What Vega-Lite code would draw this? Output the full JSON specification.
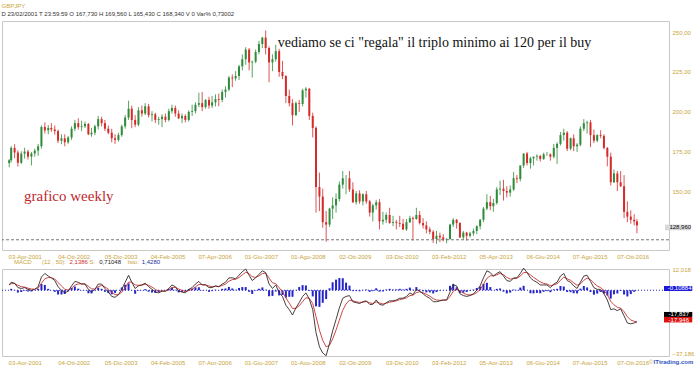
{
 "$schema": "https://vega.github.io/schema/vega-lite/v6.json",
 "padding": {"left": 1, "top": 2, "right": 0, "bottom": 0},
 "background": "white",
 "spacing": 19,
 "bounds": "flush",
 "datasets": {
  "w": [
{"d":"2001-02-25","o":168.0,"h":170.5,"l":165.4,"c":169.8,"m":3.0,"s":3.0,"hs":0.0},
{"d":"2001-03-15","o":169.8,"h":178.6,"l":168.5,"c":177.5,"m":4.5,"s":3.7,"hs":0.8},
{"d":"2001-04-15","o":177.5,"h":179.8,"l":171.0,"c":174.6,"m":4.0,"s":3.8,"hs":0.2},
{"d":"2001-05-15","o":174.6,"h":176.0,"l":165.8,"c":168.2,"m":1.5,"s":2.8,"hs":-1.3},
{"d":"2001-06-15","o":168.2,"h":175.4,"l":167.5,"c":173.9,"m":1.0,"s":2.0,"hs":-1.0},
{"d":"2001-07-15","o":173.9,"h":177.6,"l":170.8,"c":175.2,"m":1.5,"s":1.8,"hs":-0.3},
{"d":"2001-08-15","o":175.2,"h":176.3,"l":170.2,"c":172.0,"m":0.5,"s":1.2,"hs":-0.7},
{"d":"2001-09-15","o":172.0,"h":175.0,"l":166.5,"c":174.0,"m":0.0,"s":0.7,"hs":-0.7},
{"d":"2001-10-15","o":174.0,"h":177.0,"l":172.0,"c":175.8,"m":0.5,"s":0.6,"hs":-0.1},
{"d":"2001-11-15","o":175.8,"h":180.0,"l":172.5,"c":178.5,"m":2.0,"s":1.2,"hs":0.8},
{"d":"2001-12-15","o":178.5,"h":191.5,"l":177.0,"c":190.6,"m":7.5,"s":4.0,"hs":3.5},
{"d":"2002-01-15","o":190.6,"h":193.5,"l":186.5,"c":188.5,"m":9.5,"s":6.5,"hs":3.0},
{"d":"2002-02-15","o":188.5,"h":191.8,"l":186.0,"c":190.0,"m":8.0,"s":7.2,"hs":0.8},
{"d":"2002-03-15","o":190.0,"h":193.0,"l":187.5,"c":189.0,"m":7.0,"s":7.1,"hs":-0.1},
{"d":"2002-04-15","o":189.0,"h":191.5,"l":185.8,"c":188.0,"m":5.5,"s":6.4,"hs":-0.9},
{"d":"2002-05-15","o":188.0,"h":189.0,"l":180.5,"c":182.0,"m":2.0,"s":4.4,"hs":-2.4},
{"d":"2002-06-15","o":182.0,"h":186.0,"l":179.8,"c":183.5,"m":0.0,"s":2.4,"hs":-2.4},
{"d":"2002-07-15","o":183.5,"h":186.0,"l":178.5,"c":181.0,"m":-1.5,"s":0.6,"hs":-2.1},
{"d":"2002-08-15","o":181.0,"h":185.0,"l":180.0,"c":184.0,"m":-0.5,"s":0.1,"hs":-0.6},
{"d":"2002-09-15","o":184.0,"h":191.0,"l":182.5,"c":189.5,"m":2.5,"s":1.2,"hs":1.3},
{"d":"2002-10-15","o":189.5,"h":195.0,"l":188.0,"c":193.0,"m":5.0,"s":2.9,"hs":2.1},
{"d":"2002-11-15","o":193.0,"h":196.0,"l":189.0,"c":190.5,"m":4.5,"s":3.6,"hs":0.9},
{"d":"2002-12-15","o":190.5,"h":194.5,"l":188.0,"c":191.0,"m":3.5,"s":3.6,"hs":-0.1},
{"d":"2003-01-15","o":191.0,"h":194.0,"l":190.0,"c":192.5,"m":3.5,"s":3.6,"hs":-0.1},
{"d":"2003-02-15","o":192.5,"h":193.0,"l":185.5,"c":186.0,"m":0.5,"s":2.2,"hs":-1.7},
{"d":"2003-03-15","o":186.0,"h":190.0,"l":184.5,"c":187.0,"m":-1.0,"s":0.8,"hs":-1.8},
{"d":"2003-04-15","o":187.0,"h":192.0,"l":185.5,"c":191.0,"m":0.5,"s":0.7,"hs":-0.2},
{"d":"2003-05-15","o":191.0,"h":197.5,"l":189.0,"c":195.5,"m":3.5,"s":2.0,"hs":1.5},
{"d":"2003-06-15","o":195.5,"h":197.0,"l":191.0,"c":193.0,"m":3.5,"s":2.7,"hs":0.8},
{"d":"2003-07-15","o":193.0,"h":195.0,"l":188.0,"c":189.5,"m":1.0,"s":1.9,"hs":-0.9},
{"d":"2003-08-15","o":189.5,"h":191.5,"l":186.0,"c":187.0,"m":-1.0,"s":0.6,"hs":-1.6},
{"d":"2003-09-15","o":187.0,"h":189.5,"l":181.0,"c":183.5,"m":-3.5,"s":-1.2,"hs":-2.3},
{"d":"2003-10-15","o":183.5,"h":186.0,"l":180.0,"c":182.5,"m":-4.0,"s":-2.5,"hs":-1.5},
{"d":"2003-11-15","o":182.5,"h":187.0,"l":181.5,"c":185.5,"m":-2.5,"s":-2.5,"hs":0.0},
{"d":"2003-12-15","o":185.5,"h":192.0,"l":184.5,"c":191.0,"m":0.5,"s":-1.1,"hs":1.6},
{"d":"2004-01-15","o":191.0,"h":198.0,"l":189.5,"c":196.5,"m":4.5,"s":1.4,"hs":3.1},
{"d":"2004-02-15","o":196.5,"h":207.0,"l":195.0,"c":202.0,"m":8.5,"s":4.6,"hs":3.9},
{"d":"2004-03-15","o":202.0,"h":204.0,"l":189.8,"c":195.0,"m":4.5,"s":4.6,"hs":-0.1},
{"d":"2004-04-15","o":195.0,"h":198.0,"l":190.5,"c":192.0,"m":1.0,"s":3.0,"hs":-2.0},
{"d":"2004-05-15","o":192.0,"h":203.0,"l":191.0,"c":201.0,"m":2.5,"s":2.8,"hs":-0.3},
{"d":"2004-06-15","o":201.0,"h":204.0,"l":197.0,"c":199.0,"m":3.0,"s":2.9,"hs":0.1},
{"d":"2004-07-15","o":199.0,"h":205.5,"l":198.0,"c":203.5,"m":4.0,"s":3.4,"hs":0.6},
{"d":"2004-08-15","o":203.5,"h":205.0,"l":196.5,"c":198.0,"m":2.0,"s":2.8,"hs":-0.8},
{"d":"2004-09-15","o":198.0,"h":200.5,"l":194.0,"c":198.5,"m":0.5,"s":1.8,"hs":-1.3},
{"d":"2004-10-15","o":198.5,"h":199.5,"l":193.0,"c":195.0,"m":-1.0,"s":0.5,"hs":-1.5},
{"d":"2004-11-15","o":195.0,"h":197.0,"l":192.0,"c":195.5,"m":-1.5,"s":-0.4,"hs":-1.1},
{"d":"2004-12-15","o":195.5,"h":198.5,"l":190.5,"c":197.0,"m":-0.5,"s":-0.4,"hs":-0.1},
{"d":"2005-01-15","o":197.0,"h":199.0,"l":193.5,"c":195.0,"m":-0.5,"s":-0.5,"hs":0.0},
{"d":"2005-02-15","o":195.0,"h":202.0,"l":194.0,"c":200.5,"m":1.0,"s":0.2,"hs":0.8},
{"d":"2005-03-15","o":200.5,"h":204.5,"l":199.0,"c":202.5,"m":3.0,"s":1.5,"hs":1.5},
{"d":"2005-04-15","o":202.5,"h":204.0,"l":197.0,"c":199.0,"m":2.0,"s":1.7,"hs":0.3},
{"d":"2005-05-15","o":199.0,"h":201.0,"l":195.5,"c":196.0,"m":-0.5,"s":0.7,"hs":-1.2},
{"d":"2005-06-15","o":196.0,"h":199.0,"l":193.0,"c":197.5,"m":-1.0,"s":-0.1,"hs":-0.9},
{"d":"2005-07-15","o":197.5,"h":198.5,"l":193.5,"c":195.0,"m":-1.5,"s":-0.7,"hs":-0.8},
{"d":"2005-08-15","o":195.0,"h":201.0,"l":194.0,"c":200.0,"m":0.5,"s":-0.2,"hs":0.7},
{"d":"2005-09-15","o":200.0,"h":204.5,"l":197.5,"c":200.5,"m":1.5,"s":0.6,"hs":0.9},
{"d":"2005-10-15","o":200.5,"h":206.0,"l":199.0,"c":204.5,"m":3.5,"s":1.9,"hs":1.6},
{"d":"2005-11-15","o":204.5,"h":212.0,"l":203.0,"c":205.5,"m":5.0,"s":3.3,"hs":1.7},
{"d":"2005-12-15","o":205.5,"h":212.5,"l":200.5,"c":203.0,"m":3.0,"s":3.2,"hs":-0.2},
{"d":"2006-01-15","o":203.0,"h":208.0,"l":202.0,"c":207.5,"m":3.0,"s":3.1,"hs":-0.1},
{"d":"2006-02-15","o":207.5,"h":209.5,"l":202.0,"c":204.0,"m":1.5,"s":2.4,"hs":-0.9},
{"d":"2006-03-15","o":204.0,"h":210.0,"l":202.5,"c":206.0,"m":1.5,"s":2.0,"hs":-0.5},
{"d":"2006-04-15","o":206.0,"h":211.0,"l":203.5,"c":208.0,"m":2.5,"s":2.2,"hs":0.3},
{"d":"2006-05-15","o":208.0,"h":211.5,"l":203.5,"c":207.5,"m":2.0,"s":2.1,"hs":-0.1},
{"d":"2006-06-15","o":207.5,"h":214.0,"l":206.0,"c":212.5,"m":3.5,"s":2.7,"hs":0.8},
{"d":"2006-07-15","o":212.5,"h":216.0,"l":209.0,"c":214.0,"m":4.5,"s":3.5,"hs":1.0},
{"d":"2006-08-15","o":214.0,"h":222.5,"l":213.0,"c":221.5,"m":7.0,"s":5.1,"hs":1.9},
{"d":"2006-09-15","o":221.5,"h":223.5,"l":215.5,"c":221.0,"m":7.0,"s":6.0,"hs":1.0},
{"d":"2006-10-15","o":221.0,"h":225.5,"l":219.5,"c":222.5,"m":6.5,"s":6.2,"hs":0.3},
{"d":"2006-11-15","o":222.5,"h":229.5,"l":220.0,"c":228.5,"m":8.5,"s":7.2,"hs":1.3},
{"d":"2006-12-15","o":228.5,"h":236.0,"l":226.0,"c":233.0,"m":10.5,"s":8.7,"hs":1.8},
{"d":"2007-01-15","o":233.0,"h":240.5,"l":229.5,"c":239.0,"m":12.0,"s":10.2,"hs":1.8},
{"d":"2007-02-15","o":239.0,"h":240.0,"l":226.0,"c":231.0,"m":8.5,"s":9.4,"hs":-0.9},
{"d":"2007-03-15","o":231.0,"h":232.0,"l":221.5,"c":231.5,"m":5.5,"s":7.6,"hs":-2.1},
{"d":"2007-04-15","o":231.5,"h":239.0,"l":230.5,"c":237.5,"m":7.0,"s":7.3,"hs":-0.3},
{"d":"2007-05-15","o":237.5,"h":244.5,"l":236.0,"c":242.5,"m":9.0,"s":8.1,"hs":0.9},
{"d":"2007-06-15","o":242.5,"h":247.0,"l":240.0,"c":246.5,"m":11.0,"s":9.4,"hs":1.6},
{"d":"2007-07-15","o":246.5,"h":251.0,"l":236.0,"c":240.0,"m":10.0,"s":9.7,"hs":0.3},
{"d":"2007-08-15","o":240.0,"h":241.0,"l":218.5,"c":231.0,"m":3.5,"s":6.9,"hs":-3.4},
{"d":"2007-09-15","o":231.0,"h":236.0,"l":225.5,"c":233.0,"m":1.0,"s":4.2,"hs":-3.2},
{"d":"2007-10-15","o":233.0,"h":242.0,"l":231.5,"c":238.0,"m":3.0,"s":3.7,"hs":-0.7},
{"d":"2007-11-15","o":238.0,"h":239.5,"l":222.0,"c":225.0,"m":-1.5,"s":1.4,"hs":-2.9},
{"d":"2007-12-15","o":225.0,"h":232.0,"l":220.5,"c":222.5,"m":-3.5,"s":-0.8,"hs":-2.7},
{"d":"2008-01-15","o":222.5,"h":223.0,"l":205.5,"c":210.0,"m":-8.5,"s":-4.3,"hs":-4.2},
{"d":"2008-02-15","o":210.0,"h":214.0,"l":203.5,"c":205.5,"m":-11.0,"s":-7.3,"hs":-3.7},
{"d":"2008-03-15","o":205.5,"h":208.0,"l":191.5,"c":198.0,"m":-14.0,"s":-10.3,"hs":-3.7},
{"d":"2008-04-15","o":198.0,"h":206.5,"l":197.5,"c":205.5,"m":-10.0,"s":-10.2,"hs":0.2},
{"d":"2008-05-15","o":205.5,"h":207.5,"l":200.0,"c":205.0,"m":-7.0,"s":-8.8,"hs":1.8},
{"d":"2008-06-15","o":205.0,"h":214.5,"l":203.5,"c":213.5,"m":-3.5,"s":-6.4,"hs":2.9},
{"d":"2008-07-15","o":213.5,"h":215.5,"l":209.0,"c":214.5,"m":-1.5,"s":-4.2,"hs":2.7},
{"d":"2008-08-15","o":214.5,"h":215.0,"l":195.0,"c":197.5,"m":-5.0,"s":-4.6,"hs":-0.4},
{"d":"2008-09-15","o":197.5,"h":199.5,"l":184.0,"c":190.0,"m":-11.0,"s":-7.5,"hs":-3.5},
{"d":"2008-10-15","o":190.0,"h":191.0,"l":137.0,"c":153.0,"m":-24.0,"s":-14.9,"hs":-9.1},
{"d":"2008-11-15","o":153.0,"h":162.0,"l":138.0,"c":147.0,"m":-32.0,"s":-22.6,"hs":-9.4},
{"d":"2008-12-15","o":147.0,"h":152.0,"l":127.5,"c":131.0,"m":-35.5,"s":-28.4,"hs":-7.1},
{"d":"2009-01-15","o":131.0,"h":138.0,"l":118.8,"c":129.5,"m":-37.0,"s":-32.0,"hs":-5.0},
{"d":"2009-02-15","o":129.5,"h":140.0,"l":128.0,"c":139.5,"m":-30.0,"s":-31.1,"hs":1.1},
{"d":"2009-03-15","o":139.5,"h":146.5,"l":133.0,"c":141.5,"m":-23.0,"s":-27.5,"hs":4.5},
{"d":"2009-04-15","o":141.5,"h":149.0,"l":137.0,"c":145.5,"m":-16.5,"s":-22.5,"hs":6.0},
{"d":"2009-05-15","o":145.5,"h":156.5,"l":144.0,"c":154.5,"m":-10.0,"s":-16.9,"hs":6.9},
{"d":"2009-06-15","o":154.5,"h":163.0,"l":152.0,"c":158.5,"m":-4.5,"s":-11.3,"hs":6.8},
{"d":"2009-07-15","o":158.5,"h":160.5,"l":148.5,"c":158.5,"m":-3.5,"s":-7.8,"hs":4.3},
{"d":"2009-08-15","o":158.5,"h":163.0,"l":150.0,"c":151.5,"m":-3.0,"s":-5.6,"hs":2.6},
{"d":"2009-09-15","o":151.5,"h":156.0,"l":143.0,"c":143.5,"m":-6.5,"s":-6.0,"hs":-0.5},
{"d":"2009-10-15","o":143.5,"h":150.5,"l":142.0,"c":149.0,"m":-7.0,"s":-6.5,"hs":-0.5},
{"d":"2009-11-15","o":149.0,"h":151.0,"l":142.5,"c":144.0,"m":-7.5,"s":-6.9,"hs":-0.6},
{"d":"2009-12-15","o":144.0,"h":149.0,"l":141.5,"c":148.5,"m":-6.5,"s":-6.7,"hs":0.2},
{"d":"2010-01-15","o":148.5,"h":150.5,"l":142.5,"c":144.0,"m":-6.0,"s":-6.4,"hs":0.4},
{"d":"2010-02-15","o":144.0,"h":145.0,"l":134.5,"c":137.0,"m":-8.0,"s":-7.1,"hs":-0.9},
{"d":"2010-03-15","o":137.0,"h":142.5,"l":131.5,"c":141.5,"m":-8.0,"s":-7.5,"hs":-0.5},
{"d":"2010-04-15","o":141.5,"h":145.0,"l":139.0,"c":143.5,"m":-5.5,"s":-6.6,"hs":1.1},
{"d":"2010-05-15","o":143.5,"h":145.5,"l":126.5,"c":131.5,"m":-8.0,"s":-7.2,"hs":-0.8},
{"d":"2010-06-15","o":131.5,"h":137.5,"l":129.5,"c":132.5,"m":-8.5,"s":-7.8,"hs":-0.7},
{"d":"2010-07-15","o":132.5,"h":137.0,"l":130.5,"c":135.5,"m":-7.0,"s":-7.4,"hs":0.4},
{"d":"2010-08-15","o":135.5,"h":140.0,"l":130.0,"c":130.5,"m":-6.0,"s":-6.8,"hs":0.8},
{"d":"2010-09-15","o":130.5,"h":135.0,"l":128.5,"c":131.0,"m":-6.0,"s":-6.4,"hs":0.4},
{"d":"2010-10-15","o":131.0,"h":132.5,"l":126.5,"c":130.5,"m":-5.5,"s":-6.0,"hs":0.5},
{"d":"2010-11-15","o":130.5,"h":135.0,"l":128.0,"c":130.0,"m":-4.5,"s":-5.3,"hs":0.8},
{"d":"2010-12-15","o":130.0,"h":133.0,"l":126.0,"c":126.5,"m":-4.5,"s":-4.9,"hs":0.4},
{"d":"2011-01-15","o":126.5,"h":133.0,"l":125.5,"c":131.0,"m":-3.5,"s":-4.3,"hs":0.8},
{"d":"2011-02-15","o":131.0,"h":135.0,"l":130.5,"c":133.5,"m":-1.5,"s":-3.0,"hs":1.5},
{"d":"2011-03-15","o":133.5,"h":134.5,"l":119.5,"c":133.0,"m":-2.5,"s":-2.8,"hs":0.3},
{"d":"2011-04-15","o":133.0,"h":140.0,"l":132.5,"c":135.5,"m":0.5,"s":-1.3,"hs":1.8},
{"d":"2011-05-15","o":135.5,"h":138.0,"l":129.5,"c":130.5,"m":-0.5,"s":-0.9,"hs":0.4},
{"d":"2011-06-15","o":130.5,"h":133.5,"l":127.0,"c":129.0,"m":-2.0,"s":-1.4,"hs":-0.6},
{"d":"2011-07-15","o":129.0,"h":131.5,"l":124.0,"c":126.5,"m":-3.5,"s":-2.3,"hs":-1.2},
{"d":"2011-08-15","o":126.5,"h":128.0,"l":123.5,"c":125.0,"m":-4.5,"s":-3.3,"hs":-1.2},
{"d":"2011-09-15","o":125.0,"h":126.0,"l":118.0,"c":120.5,"m":-6.5,"s":-4.7,"hs":-1.8},
{"d":"2011-10-15","o":120.5,"h":125.5,"l":117.5,"c":122.5,"m":-6.5,"s":-5.5,"hs":-1.0},
{"d":"2011-11-15","o":122.5,"h":124.5,"l":118.5,"c":121.5,"m":-6.0,"s":-5.7,"hs":-0.3},
{"d":"2011-12-15","o":121.5,"h":123.5,"l":119.0,"c":120.0,"m":-5.5,"s":-5.6,"hs":0.1},
{"d":"2012-01-15","o":120.0,"h":121.0,"l":117.8,"c":120.5,"m":-5.5,"s":-5.6,"hs":0.1},
{"d":"2012-02-15","o":120.5,"h":130.0,"l":120.0,"c":129.5,"m":-1.0,"s":-3.5,"hs":2.5},
{"d":"2012-03-15","o":129.5,"h":133.5,"l":128.0,"c":132.5,"m":3.0,"s":-0.6,"hs":3.6},
{"d":"2012-04-15","o":132.5,"h":133.0,"l":127.0,"c":130.5,"m":2.5,"s":0.8,"hs":1.7},
{"d":"2012-05-15","o":130.5,"h":131.0,"l":121.0,"c":121.5,"m":-2.0,"s":-0.5,"hs":-1.5},
{"d":"2012-06-15","o":121.5,"h":125.5,"l":120.0,"c":124.5,"m":-3.0,"s":-1.6,"hs":-1.4},
{"d":"2012-07-15","o":124.5,"h":125.0,"l":119.5,"c":122.5,"m":-3.5,"s":-2.5,"hs":-1.0},
{"d":"2012-08-15","o":122.5,"h":125.0,"l":121.5,"c":124.0,"m":-3.0,"s":-2.7,"hs":-0.3},
{"d":"2012-09-15","o":124.0,"h":127.0,"l":122.5,"c":125.5,"m":-2.0,"s":-2.4,"hs":0.4},
{"d":"2012-10-15","o":125.5,"h":129.0,"l":123.5,"c":128.5,"m":0.0,"s":-1.3,"hs":1.3},
{"d":"2012-11-15","o":128.5,"h":133.0,"l":126.5,"c":132.5,"m":2.5,"s":0.4,"hs":2.1},
{"d":"2012-12-15","o":132.5,"h":140.5,"l":131.0,"c":139.5,"m":7.0,"s":3.4,"hs":3.6},
{"d":"2013-01-15","o":139.5,"h":148.5,"l":138.5,"c":143.5,"m":11.0,"s":6.8,"hs":4.2},
{"d":"2013-02-15","o":143.5,"h":147.5,"l":138.5,"c":141.0,"m":10.0,"s":8.2,"hs":1.8},
{"d":"2013-03-15","o":141.0,"h":145.5,"l":137.5,"c":143.0,"m":8.0,"s":8.1,"hs":-0.1},
{"d":"2013-04-15","o":143.0,"h":153.0,"l":142.0,"c":151.5,"m":9.5,"s":8.7,"hs":0.8},
{"d":"2013-05-15","o":151.5,"h":157.0,"l":148.0,"c":152.0,"m":10.5,"s":9.5,"hs":1.0},
{"d":"2013-06-15","o":152.0,"h":157.5,"l":144.5,"c":150.5,"m":8.0,"s":8.8,"hs":-0.8},
{"d":"2013-07-15","o":150.5,"h":153.5,"l":146.5,"c":149.5,"m":5.5,"s":7.3,"hs":-1.8},
{"d":"2013-08-15","o":149.5,"h":154.0,"l":147.0,"c":151.5,"m":5.0,"s":6.3,"hs":-1.3},
{"d":"2013-09-15","o":151.5,"h":162.5,"l":150.5,"c":158.5,"m":7.0,"s":6.6,"hs":0.4},
{"d":"2013-10-15","o":158.5,"h":160.5,"l":155.5,"c":158.0,"m":7.0,"s":6.8,"hs":0.2},
{"d":"2013-11-15","o":158.0,"h":166.5,"l":156.5,"c":166.5,"m":9.5,"s":8.0,"hs":1.5},
{"d":"2013-12-15","o":166.5,"h":174.0,"l":165.0,"c":174.0,"m":12.5,"s":10.0,"hs":2.5},
{"d":"2014-01-15","o":174.0,"h":175.0,"l":166.5,"c":168.0,"m":10.0,"s":10.0,"hs":0.0},
{"d":"2014-02-15","o":168.0,"h":172.0,"l":164.5,"c":171.0,"m":7.0,"s":8.7,"hs":-1.7},
{"d":"2014-03-15","o":171.0,"h":172.0,"l":166.5,"c":172.0,"m":5.5,"s":7.3,"hs":-1.8},
{"d":"2014-04-15","o":172.0,"h":173.5,"l":169.5,"c":172.5,"m":4.5,"s":6.0,"hs":-1.5},
{"d":"2014-05-15","o":172.5,"h":173.0,"l":169.0,"c":170.5,"m":3.0,"s":4.7,"hs":-1.7},
{"d":"2014-06-15","o":170.5,"h":174.5,"l":170.0,"c":173.5,"m":3.0,"s":3.9,"hs":-0.9},
{"d":"2014-07-15","o":173.5,"h":175.0,"l":172.5,"c":173.5,"m":3.0,"s":3.5,"hs":-0.5},
{"d":"2014-08-15","o":173.5,"h":174.0,"l":169.5,"c":172.0,"m":1.5,"s":2.6,"hs":-1.1},
{"d":"2014-09-15","o":172.0,"h":180.0,"l":171.0,"c":177.5,"m":3.5,"s":3.0,"hs":0.5},
{"d":"2014-10-15","o":177.5,"h":181.0,"l":167.5,"c":180.0,"m":4.5,"s":3.7,"hs":0.8},
{"d":"2014-11-15","o":180.0,"h":187.5,"l":179.0,"c":185.5,"m":8.0,"s":5.6,"hs":2.4},
{"d":"2014-12-15","o":185.5,"h":189.5,"l":182.0,"c":187.0,"m":9.5,"s":7.4,"hs":2.1},
{"d":"2015-01-15","o":187.0,"h":188.0,"l":175.5,"c":177.0,"m":5.5,"s":6.5,"hs":-1.0},
{"d":"2015-02-15","o":177.0,"h":184.0,"l":176.0,"c":183.5,"m":4.5,"s":5.6,"hs":-1.1},
{"d":"2015-03-15","o":183.5,"h":186.0,"l":175.5,"c":178.5,"m":2.5,"s":4.2,"hs":-1.7},
{"d":"2015-04-15","o":178.5,"h":180.5,"l":175.0,"c":179.5,"m":1.0,"s":2.8,"hs":-1.8},
{"d":"2015-05-15","o":179.5,"h":191.0,"l":178.5,"c":189.5,"m":4.5,"s":3.6,"hs":0.9},
{"d":"2015-06-15","o":189.5,"h":195.5,"l":188.0,"c":193.0,"m":8.0,"s":5.6,"hs":2.4},
{"d":"2015-07-15","o":193.0,"h":194.5,"l":186.5,"c":193.5,"m":8.5,"s":6.9,"hs":1.6},
{"d":"2015-08-15","o":193.5,"h":195.0,"l":178.0,"c":185.5,"m":5.0,"s":6.0,"hs":-1.0},
{"d":"2015-09-15","o":185.5,"h":189.0,"l":180.5,"c":182.0,"m":1.5,"s":4.0,"hs":-2.5},
{"d":"2015-10-15","o":182.0,"h":186.0,"l":181.0,"c":185.5,"m":0.5,"s":2.4,"hs":-1.9},
{"d":"2015-11-15","o":185.5,"h":188.5,"l":183.5,"c":185.0,"m":0.5,"s":1.5,"hs":-1.0},
{"d":"2015-12-15","o":185.0,"h":186.0,"l":176.5,"c":177.5,"m":-2.0,"s":-0.1,"hs":-1.9},
{"d":"2016-01-15","o":177.5,"h":178.0,"l":166.0,"c":172.0,"m":-5.5,"s":-2.5,"hs":-3.0},
{"d":"2016-02-15","o":172.0,"h":174.5,"l":154.0,"c":156.0,"m":-11.0,"s":-6.3,"hs":-4.7},
{"d":"2016-03-15","o":156.0,"h":164.0,"l":155.5,"c":161.5,"m":-10.5,"s":-8.2,"hs":-2.3},
{"d":"2016-04-15","o":161.5,"h":163.0,"l":150.5,"c":156.0,"m":-11.5,"s":-9.7,"hs":-1.8},
{"d":"2016-05-15","o":156.0,"h":163.0,"l":153.0,"c":153.5,"m":-10.5,"s":-10.1,"hs":-0.4},
{"d":"2016-06-15","o":153.5,"h":160.5,"l":133.5,"c":137.5,"m":-14.5,"s":-12.1,"hs":-2.4},
{"d":"2016-07-15","o":137.5,"h":144.0,"l":131.0,"c":134.5,"m":-18.5,"s":-15.0,"hs":-3.5},
{"d":"2016-08-15","o":134.5,"h":138.5,"l":130.0,"c":132.5,"m":-19.0,"s":-16.8,"hs":-2.2},
{"d":"2016-09-15","o":132.5,"h":136.0,"l":129.0,"c":131.5,"m":-18.5,"s":-17.6,"hs":-0.9},
{"d":"2016-10-10","o":131.5,"h":133.0,"l":124.0,"c":128.96,"m":-17.837,"s":-17.946,"hs":-0.109}
  ]
 },
 "vconcat": [
  {
   "width": 667,
   "height": 229,
   "title": {
    "text": "GBPJPY",
    "subtitle": "D 23/02/2001  T 23:59:59  O 167,730  H 169,560  L 165,430  C 168,340  V 0  Var% 0,73002",
    "anchor": "start",
    "font": "Liberation Sans",
    "fontSize": 6,
    "fontWeight": "normal",
    "color": "#c9a43a",
    "subtitleFont": "Liberation Sans",
    "subtitleFontSize": 6,
    "subtitleColor": "#333333",
    "subtitlePadding": 2,
    "offset": 4
   },
   "data": {"name": "w"},
   "layer": [
    {
     "mark": {"type": "rule", "strokeWidth": 0.8},
     "encoding": {
      "x": {"field": "d", "type": "temporal",
       "scale": {"domain": [{"year": 2001, "month": 2, "date": 5}, {"year": 2017, "month": 6, "date": 13}]},
       "axis": {"title": null, "labelOverlap": false,
        "values": [{"year":2001,"month":7,"date":16},{"year":2002,"month":10,"date":4},{"year":2003,"month":12,"date":5},{"year":2005,"month":2,"date":4},{"year":2006,"month":4,"date":7},{"year":2007,"month":6,"date":1},{"year":2008,"month":8,"date":1},{"year":2009,"month":10,"date":2},{"year":2010,"month":12,"date":3},{"year":2012,"month":2,"date":3},{"year":2013,"month":4,"date":5},{"year":2014,"month":6,"date":6},{"year":2015,"month":8,"date":7},{"year":2016,"month":9,"date":1}],
        "labelExpr": "['03-Apr-2001','04-Ott-2002','05-Dic-2003','04-Feb-2005','07-Apr-2006','01-Giu-2007','01-Ago-2008','02-Ott-2009','03-Dic-2010','03-Feb-2012','05-Apr-2013','06-Giu-2014','07-Ago-2015','07-Ott-2016'][indexof([2001,2002,2003,2005,2006,2007,2008,2009,2010,2012,2013,2014,2015,2016], year(datum.value))]"}},
      "y": {"field": "l", "type": "quantitative",
       "scale": {"domain": [113.6, 256.9], "nice": false, "zero": false},
       "axis": {"title": null, "orient": "right", "values": [150, 175, 200, 225, 250],
        "labelExpr": "replace(format(datum.value, '.2f'), '.', ',')"}},
      "y2": {"field": "h"},
      "color": {"condition": {"test": "datum.c >= datum.o", "value": "#2e8b3a"}, "value": "#d42a2a"}
     }
    },
    {
     "mark": {"type": "bar", "width": 2},
     "encoding": {
      "x": {"field": "d", "type": "temporal"},
      "y": {"field": "o", "type": "quantitative"},
      "y2": {"field": "c"},
      "color": {"condition": {"test": "datum.c >= datum.o", "value": "#2e8b3a"}, "value": "#d42a2a"}
     }
    },
    {
     "data": {"values": [{}]},
     "mark": {"type": "rule", "color": "#777777", "strokeDash": [3, 2], "strokeWidth": 1},
     "encoding": {"y": {"datum": 120}}
    },
    {
     "data": {"values": [{}]},
     "mark": {"type": "text", "text": "vediamo se ci \"regala\" il triplo minimo ai 120 per il buy", "font": "Liberation Serif", "fontSize": 14, "color": "#111111", "align": "left", "baseline": "middle"},
     "encoding": {"x": {"datum": {"year": 2007, "month": 11, "date": 2}}, "y": {"datum": 242.9}}
    },
    {
     "data": {"values": [{}]},
     "mark": {"type": "text", "text": "grafico weekly", "font": "Liberation Serif", "fontSize": 15, "color": "#c0282e", "align": "left", "baseline": "middle"},
     "encoding": {"x": {"datum": {"year": 2001, "month": 7, "date": 10}}, "y": {"datum": 147.3}}
    },
    {
     "data": {"values": [{}]},
     "mark": {"type": "rect", "color": "#d9d9d9"},
     "encoding": {"x": {"datum": {"year": 2017, "month": 6, "date": 22}}, "x2": {"datum": {"year": 2018, "month": 2, "date": 12}}, "y": {"datum": 129.5}, "y2": {"datum": 125.9}}
    },
    {
     "data": {"values": [{}]},
     "mark": {"type": "text", "text": "128,960", "font": "Liberation Sans", "fontSize": 6, "color": "#111111", "align": "left", "baseline": "middle"},
     "encoding": {"x": {"datum": {"year": 2017, "month": 8, "date": 1}}, "y": {"datum": 127.7}}
    }
   ]
  },
  {
   "width": 667,
   "height": 87,
   "data": {"name": "w"},
   "layer": [
    {
     "mark": {"type": "bar", "width": 2, "color": "#2424c8"},
     "encoding": {
      "x": {"field": "d", "type": "temporal",
       "scale": {"domain": [{"year": 2001, "month": 2, "date": 5}, {"year": 2017, "month": 6, "date": 13}]},
       "axis": {"title": null, "labelOverlap": false,
        "values": [{"year":2001,"month":7,"date":16},{"year":2002,"month":10,"date":4},{"year":2003,"month":12,"date":5},{"year":2005,"month":2,"date":4},{"year":2006,"month":4,"date":7},{"year":2007,"month":6,"date":1},{"year":2008,"month":8,"date":1},{"year":2009,"month":10,"date":2},{"year":2010,"month":12,"date":3},{"year":2012,"month":2,"date":3},{"year":2013,"month":4,"date":5},{"year":2014,"month":6,"date":6},{"year":2015,"month":8,"date":7},{"year":2016,"month":9,"date":1}],
        "labelExpr": "['03-Apr-2001','04-Ott-2002','05-Dic-2003','04-Feb-2005','07-Apr-2006','01-Giu-2007','01-Ago-2008','02-Ott-2009','03-Dic-2010','03-Feb-2012','05-Apr-2013','06-Giu-2014','07-Ago-2015','07-Ott-2016'][indexof([2001,2002,2003,2005,2006,2007,2008,2009,2010,2012,2013,2014,2015,2016], year(datum.value))]"}},
      "y": {"field": "hs", "type": "quantitative",
       "scale": {"domain": [-37.186, 12.018], "nice": false, "zero": false},
       "axis": {"title": null, "orient": "right", "values": [12.018, -37.186],
        "labelBaseline": {"condition": {"test": "datum.value < 0", "value": "bottom"}, "value": "middle"},
        "labelExpr": "replace(format(datum.value, '.3f'), '.', ',')"}},
      "y2": {"datum": 0}
     }
    },
    {
     "data": {"values": [{}]},
     "mark": {"type": "rule", "color": "#2424c8", "strokeDash": [1, 2], "strokeWidth": 1},
     "encoding": {"y": {"datum": 0}}
    },
    {
     "mark": {"type": "line", "color": "#c83232", "strokeWidth": 0.9},
     "encoding": {"x": {"field": "d", "type": "temporal"}, "y": {"field": "s", "type": "quantitative"}}
    },
    {
     "mark": {"type": "line", "color": "#3a2626", "strokeWidth": 0.9},
     "encoding": {"x": {"field": "d", "type": "temporal"}, "y": {"field": "m", "type": "quantitative"}}
    },
    {
     "data": {"values": [{}]},
     "mark": {"type": "rect", "color": "#1a1ad8"},
     "encoding": {"x": {"datum": {"year": 2017, "month": 6, "date": 13}}, "x2": {"datum": {"year": 2018, "month": 2, "date": 25}}, "y": {"datum": 2.41}, "y2": {"datum": -0.41}}
    },
    {
     "data": {"values": [{}]},
     "mark": {"type": "rect", "color": "#000000"},
     "encoding": {"x": {"datum": {"year": 2017, "month": 6, "date": 13}}, "x2": {"datum": {"year": 2018, "month": 2, "date": 25}}, "y": {"datum": -12.28}, "y2": {"datum": -15.1}}
    },
    {
     "data": {"values": [{}]},
     "mark": {"type": "rect", "color": "#e01010"},
     "encoding": {"x": {"datum": {"year": 2017, "month": 6, "date": 13}}, "x2": {"datum": {"year": 2018, "month": 2, "date": 25}}, "y": {"datum": -15.1}, "y2": {"datum": -18.2}}
    },
    {
     "data": {"values": [{}]},
     "mark": {"type": "text", "text": "-0,10884", "font": "Liberation Sans", "fontSize": 6, "color": "#ffffff", "align": "left", "baseline": "middle"},
     "encoding": {"x": {"datum": {"year": 2017, "month": 7, "date": 18}}, "y": {"datum": 1.0}}
    },
    {
     "data": {"values": [{}]},
     "mark": {"type": "text", "text": "-17,837", "font": "Liberation Sans", "fontSize": 6, "color": "#ffffff", "align": "left", "baseline": "middle"},
     "encoding": {"x": {"datum": {"year": 2017, "month": 7, "date": 25}}, "y": {"datum": -13.7}}
    },
    {
     "data": {"values": [{}]},
     "mark": {"type": "text", "text": "-17,946", "font": "Liberation Sans", "fontSize": 6, "color": "#ffffff", "align": "left", "baseline": "middle"},
     "encoding": {"x": {"datum": {"year": 2017, "month": 7, "date": 25}}, "y": {"datum": -16.6}}
    },
    {
     "data": {"values": [{}]},
     "mark": {"type": "text", "text": "MACD", "font": "Liberation Sans", "fontSize": 6, "color": "#c9a43a", "align": "left", "baseline": "middle"},
     "encoding": {"x": {"datum": {"year": 2001, "month": 4, "date": 9}}, "y": {"datum": 15.97}}
    },
    {
     "data": {"values": [{}]},
     "mark": {"type": "text", "text": "(12 , 50):", "font": "Liberation Sans", "fontSize": 6, "color": "#c9a43a", "align": "left", "baseline": "middle"},
     "encoding": {"x": {"datum": {"year": 2001, "month": 12, "date": 20}}, "y": {"datum": 15.97}}
    },
    {
     "data": {"values": [{}]},
     "mark": {"type": "text", "text": "2,1386", "font": "Liberation Sans", "fontSize": 6, "color": "#d03030", "align": "left", "baseline": "middle"},
     "encoding": {"x": {"datum": {"year": 2002, "month": 8, "date": 28}}, "y": {"datum": 15.97}}
    },
    {
     "data": {"values": [{}]},
     "mark": {"type": "text", "text": "S:", "font": "Liberation Sans", "fontSize": 6, "color": "#c9a43a", "align": "left", "baseline": "middle"},
     "encoding": {"x": {"datum": {"year": 2003, "month": 2, "date": 25}}, "y": {"datum": 15.97}}
    },
    {
     "data": {"values": [{}]},
     "mark": {"type": "text", "text": "0,71048", "font": "Liberation Sans", "fontSize": 6, "color": "#222222", "align": "left", "baseline": "middle"},
     "encoding": {"x": {"datum": {"year": 2003, "month": 5, "date": 25}}, "y": {"datum": 15.97}}
    },
    {
     "data": {"values": [{}]},
     "mark": {"type": "text", "text": "Isto:", "font": "Liberation Sans", "fontSize": 6, "color": "#c9a43a", "align": "left", "baseline": "middle"},
     "encoding": {"x": {"datum": {"year": 2004, "month": 2, "date": 5}}, "y": {"datum": 15.97}}
    },
    {
     "data": {"values": [{}]},
     "mark": {"type": "text", "text": "1,4280", "font": "Liberation Sans", "fontSize": 6, "color": "#2030a0", "align": "left", "baseline": "middle"},
     "encoding": {"x": {"datum": {"year": 2004, "month": 6, "date": 14}}, "y": {"datum": 15.97}}
    },
    {
     "data": {"values": [{}]},
     "mark": {"type": "text", "text": "©", "font": "Liberation Sans", "fontSize": 6, "color": "#c9a43a", "align": "left", "baseline": "middle"},
     "encoding": {"x": {"datum": {"year": 2017, "month": 1, "date": 25}}, "y": {"datum": -40.7}}
    },
    {
     "data": {"values": [{}]},
     "mark": {"type": "text", "text": "ITtrading.com", "font": "Liberation Sans", "fontSize": 6, "fontWeight": "bold", "color": "#3355bb", "align": "left", "baseline": "middle"},
     "encoding": {"x": {"datum": {"year": 2017, "month": 3, "date": 10}}, "y": {"datum": -40.7}}
    }
   ]
  }
 ],
 "config": {
  "font": "Liberation Sans",
  "view": {"stroke": "#c8c8c8", "strokeWidth": 1},
  "axis": {
   "domain": false,
   "ticks": false,
   "tickSize": 0,
   "grid": false,
   "labelColor": "#c9a43a",
   "labelFont": "Liberation Sans",
   "labelFontSize": 6,
   "labelPadding": 3
  }
 }
}
